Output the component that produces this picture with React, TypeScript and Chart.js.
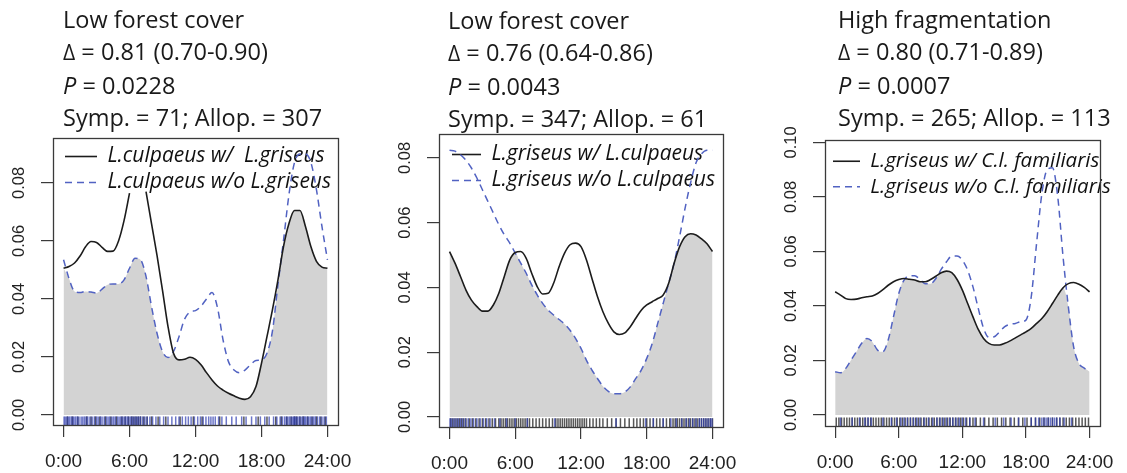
import React, { useEffect, useRef } from 'react';
import { Chart, registerables } from 'chart.js';

Chart.register(...registerables);

// ---------- data ----------
const HOURS = [0, 0.5, 1, 1.5, 2, 2.5, 3, 3.5, 4, 4.5, 5, 5.5, 6, 6.5, 7, 7.5, 8, 8.5, 9, 9.5, 10, 10.5, 11, 11.5, 12, 12.5, 13, 13.5, 14, 14.5, 15, 15.5, 16, 16.5, 17, 17.5, 18, 18.5, 19, 19.5, 20, 20.5, 21, 21.5, 22, 22.5, 23, 23.5, 24];
const X_TICKS = [0, 6, 12, 18, 24];
const X_LABELS = ['0:00', '6:00', '12:00', '18:00', '24:00'];
const Y_TICKS_1 = [0, 0.02, 0.04, 0.06, 0.08];
const Y_TICKS_2 = [0, 0.02, 0.04, 0.06, 0.08];
const Y_TICKS_3 = [0, 0.02, 0.04, 0.06, 0.08, 0.1];

const TITLES = ['Low forest cover', 'Low forest cover', 'High fragmentation'];
const DELTAS = ['0.81 (0.70-0.90)', '0.76 (0.64-0.86)', '0.80 (0.71-0.89)'];
const P_VALUES = ['0.0228', '0.0043', '0.0007'];
const SYMP = [71, 347, 265];
const ALLOP = [307, 61, 113];

const LEGEND_1 = ['L.culpaeus w/  L.griseus', 'L.culpaeus w/o L.griseus'];
const LEGEND_2 = ['L.griseus w/ L.culpaeus', 'L.griseus w/o L.culpaeus'];
const LEGEND_3 = ['L.griseus w/ C.l. familiaris', 'L.griseus w/o C.l. familiaris'];

// Panel 1: L. culpaeus with / without L. griseus (density)
const P1_WITH = [0.0506, 0.0512, 0.0524, 0.0548, 0.058, 0.0598, 0.0595, 0.0578, 0.0564, 0.0565, 0.060, 0.067, 0.0765, null, null, 0.077, 0.066, 0.055, 0.043, 0.0305, 0.0213, 0.019, 0.0192, 0.0199, 0.0192, 0.0173, 0.0146, 0.0121, 0.0100, 0.0086, 0.0075, 0.0066, 0.0058, 0.0054, 0.0063, 0.0098, 0.0178, 0.027, 0.0363, 0.0466, 0.058, 0.066, 0.0705, 0.0705, 0.065, 0.058, 0.053, 0.051, 0.0506];
const P1_WITHOUT = [0.0535, 0.047, 0.0426, 0.0422, 0.0426, 0.0424, 0.042, 0.0434, 0.0449, 0.0452, 0.0452, 0.0466, 0.0506, 0.054, 0.0535, 0.0478, 0.0374, 0.0282, 0.0219, 0.0198, 0.0219, 0.027, 0.033, 0.0355, 0.036, 0.0375, 0.040, 0.0422, 0.037, 0.026, 0.0184, 0.0155, 0.0146, 0.0155, 0.0173, 0.0188, 0.019, 0.0213, 0.029, 0.045, 0.060, 0.076, 0.087, 0.090, 0.090, 0.087, 0.0777, 0.065, 0.0535];

// Panel 2: L. griseus with / without L. culpaeus
const P2_WITH = [0.0511, 0.0475, 0.0434, 0.0392, 0.0361, 0.0341, 0.0327, 0.0327, 0.0346, 0.0382, 0.0434, 0.0485, 0.0508, 0.0511, 0.049, 0.0444, 0.0403, 0.038, 0.0382, 0.0413, 0.0464, 0.0506, 0.0532, 0.0537, 0.0526, 0.0485, 0.0428, 0.0372, 0.0325, 0.0289, 0.0263, 0.0255, 0.026, 0.0279, 0.0305, 0.033, 0.0346, 0.0356, 0.0366, 0.0377, 0.0413, 0.0475, 0.0526, 0.0557, 0.0566, 0.0562, 0.055, 0.0535, 0.0511];
const P2_WITHOUT = [0.0824, 0.0821, 0.081, 0.0793, 0.0769, 0.0738, 0.0702, 0.0666, 0.063, 0.0594, 0.0563, 0.0537, 0.0506, 0.0475, 0.0444, 0.0408, 0.0377, 0.0351, 0.033, 0.0315, 0.0301, 0.0287, 0.0268, 0.0243, 0.0212, 0.0175, 0.0145, 0.0119, 0.0095, 0.0079, 0.0072, 0.0072, 0.0077, 0.0093, 0.0119, 0.0145, 0.0181, 0.0227, 0.0289, 0.0351, 0.0413, 0.0475, 0.0557, 0.0645, 0.0723, 0.0785, 0.0813, 0.0824, 0.0824];

// Panel 3: L. griseus with / without C. l. familiaris
const P3_WITH = [0.0452, 0.044, 0.0427, 0.0424, 0.0425, 0.043, 0.0434, 0.0437, 0.0446, 0.046, 0.0476, 0.0489, 0.0497, 0.0501, 0.0498, 0.0495, 0.0489, 0.0489, 0.0497, 0.0509, 0.0522, 0.0528, 0.0522, 0.0497, 0.0458, 0.0409, 0.036, 0.0314, 0.0281, 0.0263, 0.0257, 0.0257, 0.0263, 0.0272, 0.0283, 0.0294, 0.0305, 0.0318, 0.0336, 0.0354, 0.0379, 0.0409, 0.044, 0.0467, 0.0482, 0.0486, 0.048, 0.0468, 0.0452];
const P3_WITHOUT = [0.0159, 0.0155, 0.0171, 0.0202, 0.0232, 0.0263, 0.0281, 0.0269, 0.0238, 0.0232, 0.0275, 0.036, 0.0446, 0.0495, 0.0511, 0.0511, 0.0498, 0.0482, 0.0482, 0.0501, 0.0534, 0.0562, 0.0583, 0.0583, 0.0568, 0.0531, 0.047, 0.0391, 0.0318, 0.0285, 0.0287, 0.0305, 0.0324, 0.0333, 0.0336, 0.0342, 0.0348, 0.0434, 0.0629, 0.0812, 0.090, 0.0907, 0.080, 0.058, 0.0397, 0.025, 0.0189, 0.0172, 0.0159];

// Rug: detection times (hours)
const P1_RUG_WITH = [0.35, 0.8, 1.3, 2.1, 2.5, 2.9, 3.3, 3.8, 4.3, 4.8, 5.3, 5.6, 5.9, 6.2, 6.4, 6.6, 6.8, 7.0, 7.3, 7.6, 8.0, 8.6, 9.3, 10.6, 11.8, 12.6, 14.2, 16.4, 17.7, 18.5, 19.3, 19.8, 20.3, 20.7, 21.0, 21.2, 21.5, 21.8, 22.2, 22.6, 23.0, 23.4, 23.8];
const P1_RUG_WITHOUT = [0.05, 0.15, 0.3, 0.42, 0.55, 0.7, 0.85, 0.95, 1.1, 1.25, 1.4, 1.6, 1.75, 1.9, 2.05, 2.2, 2.4, 2.6, 2.8, 3.0, 3.15, 3.35, 3.5, 3.7, 3.9, 4.05, 4.2, 4.4, 4.55, 4.7, 4.9, 5.05, 5.2, 5.35, 5.5, 5.65, 5.8, 5.95, 6.1, 6.25, 6.4, 6.55, 6.7, 6.85, 7.0, 7.2, 7.4, 7.6, 7.85, 8.1, 8.4, 8.75, 9.1, 9.5, 9.85, 10.2, 10.5, 10.8, 11.1, 11.35, 11.6, 11.9, 12.2, 12.45, 12.7, 12.95, 13.2, 13.4, 13.6, 13.8, 14.1, 14.4, 14.8, 15.3, 15.7, 16.2, 16.6, 17.1, 17.5, 17.9, 18.3, 18.7, 19.1, 19.4, 19.7, 19.9, 20.1, 20.25, 20.4, 20.55, 20.7, 20.85, 20.95, 21.05, 21.15, 21.3, 21.45, 21.6, 21.75, 21.9, 22.0, 22.15, 22.3, 22.45, 22.6, 22.75, 22.9, 23.1, 23.3, 23.5, 23.7, 23.9];
const P2_RUG_WITH = [0.1, 0.3, 0.5, 0.7, 0.9, 1.1, 1.3, 1.5, 1.8, 2.1, 2.4, 2.7, 3.0, 3.3, 3.6, 3.9, 4.2, 4.5, 4.7, 4.9, 5.1, 5.3, 5.5, 5.7, 5.9, 6.1, 6.3, 6.5, 6.7, 6.9, 7.1, 7.3, 7.6, 7.9, 8.2, 8.5, 8.8, 9.1, 9.4, 9.7, 9.9, 10.1, 10.3, 10.5, 10.7, 10.9, 11.1, 11.3, 11.5, 11.7, 11.9, 12.1, 12.3, 12.5, 12.8, 13.1, 13.4, 13.7, 14.0, 14.4, 14.8, 15.2, 15.6, 16.0, 16.4, 16.8, 17.1, 17.4, 17.7, 18.0, 18.3, 18.6, 18.9, 19.2, 19.5, 19.8, 20.1, 20.4, 20.6, 20.8, 21.0, 21.2, 21.4, 21.6, 21.8, 22.0, 22.2, 22.4, 22.6, 22.8, 23.0, 23.2, 23.4, 23.6, 23.8, 24.0];
const P2_RUG_WITHOUT = [0.05, 0.2, 0.4, 0.6, 0.8, 1.0, 1.2, 1.45, 1.7, 1.95, 2.2, 2.5, 2.8, 3.1, 3.4, 3.7, 4.1, 4.6, 5.2, 6.0, 7.1, 9.6, 15.2, 17.9, 18.6, 19.5, 20.2, 20.7, 21.2, 21.6, 21.9, 22.2, 22.5, 22.8, 23.0, 23.2, 23.4, 23.6, 23.8, 23.95];
const P3_RUG_WITH = [0.1, 0.35, 0.6, 0.85, 1.1, 1.35, 1.6, 1.85, 2.1, 2.35, 2.6, 2.85, 3.1, 3.35, 3.6, 3.85, 4.1, 4.35, 4.6, 4.85, 5.1, 5.35, 5.6, 5.85, 6.1, 6.35, 6.6, 6.85, 7.1, 7.35, 7.6, 7.85, 8.1, 8.35, 8.6, 8.85, 9.1, 9.35, 9.6, 9.85, 10.1, 10.35, 10.6, 10.85, 11.1, 11.35, 11.6, 11.85, 12.1, 12.4, 12.7, 13.0, 13.3, 13.7, 14.1, 14.5, 14.9, 15.3, 15.7, 16.1, 16.5, 16.9, 17.3, 17.7, 18.1, 18.5, 18.9, 19.3, 19.7, 20.1, 20.5, 20.9, 21.2, 21.5, 21.8, 22.1, 22.4, 22.7, 23.0, 23.3, 23.6, 23.9];
const P3_RUG_WITHOUT = [0.5, 1.6, 2.3, 2.8, 3.1, 3.4, 4.5, 5.3, 5.8, 6.2, 6.5, 6.8, 7.1, 7.4, 7.7, 8.0, 8.4, 8.8, 9.2, 9.6, 9.9, 10.2, 10.5, 10.8, 11.1, 11.4, 11.7, 12.0, 12.3, 12.7, 13.2, 14.0, 15.1, 15.9, 16.6, 17.3, 17.9, 18.5, 18.9, 19.2, 19.5, 19.7, 19.9, 20.1, 20.3, 20.5, 20.7, 20.9, 21.2, 21.6, 22.3];

// ---------- layout / style ----------
const H = 473;
const BLACK = '#1c1c1c';
const BLUE = '#5162c2';
const GREY = '#d3d3d3';
const AXIS = '#3a3a3a';
const RUG_BLACK = 'rgba(15,15,15,0.7)';
const RUG_BLUE = 'rgba(45,60,175,0.7)';
const LEGEND_PAD = 5;

const PANELS = [
  { left: 0, width: 380, box: { left: 53, right: 338, top: 138, bottom: 425 }, yMin: -0.00345, yMax: 0.0955, yTicks: Y_TICKS_1,
    withVals: P1_WITH, withoutVals: P1_WITHOUT, rugWith: P1_RUG_WITH, rugWithout: P1_RUG_WITHOUT, legend: LEGEND_1,
    legendFont: 21, legendBox: 32, legendDx: 7, legendDy: 3, titleLeft: 63, titleTop: 3, idx: 0 },
  { left: 380, width: 380, box: { left: 59, right: 343, top: 134, bottom: 427 }, yMin: -0.00309, yMax: 0.0874, yTicks: Y_TICKS_2,
    withVals: P2_WITH, withoutVals: P2_WITHOUT, rugWith: P2_RUG_WITH, rugWithout: P2_RUG_WITHOUT, legend: LEGEND_2,
    legendFont: 21, legendBox: 29, legendDx: 8, legendDy: 5, titleLeft: 68, titleTop: 4, idx: 1 },
  { left: 760, width: 367, box: { left: 65, right: 349, top: 140, bottom: 426 }, yMin: -0.00404, yMax: 0.1009, yTicks: Y_TICKS_3,
    withVals: P3_WITH, withoutVals: P3_WITHOUT, rugWith: P3_RUG_WITH, rugWithout: P3_RUG_WITHOUT, legend: LEGEND_3,
    legendFont: 20.5, legendBox: 27, legendDx: 3, legendDy: 6, titleLeft: 78, titleTop: 3, idx: 2 },
];

const boxPlugin = {
  id: 'plotBox',
  afterDatasetsDraw(chart: any) {
    const { ctx, chartArea: a } = chart;
    ctx.save();
    ctx.strokeStyle = AXIS;
    ctx.lineWidth = 1.3;
    ctx.strokeRect(Math.round(a.left) + 0.5, Math.round(a.top) + 0.5, Math.round(a.right - a.left), Math.round(a.bottom - a.top));
    ctx.restore();
  },
};

function makeLegendMover(dx: number, dy: number) {
  return {
    id: 'legendMover',
    afterLayout(chart: any) {
      const lg = chart.legend;
      if (!lg) return;
      const a = chart.chartArea;
      const h = lg.height;
      lg.left = a.left + dx;
      lg.width = chart.width - lg.left;
      lg.right = chart.width;
      lg.top = a.top + dy;
      lg.bottom = lg.top + h;
    },
  };
}

function Panel({ cfg }: { cfg: any }) {
  const ref = useRef<HTMLCanvasElement>(null);
  useEffect(() => {
    const canvas = ref.current as HTMLCanvasElement;
    const box = cfg.box;
    const rugY = cfg.yMin + 0.015 * (cfg.yMax - cfg.yMin);
    const rugR = 0.015 * (box.bottom - box.top);
    const toXY = (vals: (number | null)[]) => HOURS.map((h, i) => ({ x: h, y: vals[i] }));
    const overlap = cfg.withVals.map((v: number | null, i: number) => {
      const w = cfg.withoutVals[i];
      return v == null ? w : Math.min(v, w);
    });
    const axisFont = { family: '"Liberation Sans", Arial, sans-serif' };
    const chart = new Chart(canvas, {
      type: 'line',
      data: {
        datasets: [
          { label: cfg.legend[0], data: toXY(cfg.withVals), borderColor: BLACK, borderWidth: 1.6, pointRadius: 0, fill: false,
            cubicInterpolationMode: 'monotone', spanGaps: false, order: 0 },
          { label: cfg.legend[1], data: toXY(cfg.withoutVals), borderColor: BLUE, borderWidth: 1.5, borderDash: [7, 5], pointRadius: 0,
            fill: false, cubicInterpolationMode: 'monotone', order: 1 },
          { label: 'overlap', data: toXY(overlap), borderWidth: 0, borderColor: 'rgba(0,0,0,0)', backgroundColor: GREY, fill: 'origin',
            pointRadius: 0, cubicInterpolationMode: 'monotone', order: 5 },
          { type: 'scatter', label: 'rug with', data: cfg.rugWith.map((t: number) => ({ x: t, y: rugY })), showLine: false,
            pointStyle: 'line', pointRotation: 90, pointRadius: rugR, pointHoverRadius: rugR, pointBorderWidth: 1.5,
            pointBorderColor: RUG_BLACK, borderColor: RUG_BLACK, order: 3 },
          { type: 'scatter', label: 'rug without', data: cfg.rugWithout.map((t: number) => ({ x: t, y: rugY })), showLine: false,
            pointStyle: 'line', pointRotation: 90, pointRadius: rugR, pointHoverRadius: rugR, pointBorderWidth: 1.5,
            pointBorderColor: RUG_BLUE, borderColor: RUG_BLUE, order: 2 },
        ],
      } as any,
      options: {
        responsive: false,
        animation: false,
        devicePixelRatio: 1,
        events: [],
        layout: { padding: { top: box.top, right: cfg.width - box.right, left: 0, bottom: 0 } },
        plugins: {
          tooltip: { enabled: false },
          title: { display: false },
          legend: {
            position: 'chartArea',
            align: 'start',
            labels: {
              usePointStyle: true,
              pointStyleWidth: cfg.legendBox,
              boxWidth: cfg.legendBox,
              boxHeight: 10,
              padding: LEGEND_PAD,
              color: '#111',
              font: { family: '"Open Sans", sans-serif', size: cfg.legendFont, style: 'italic' },
              generateLabels: () => [
                { text: cfg.legend[0], fillStyle: 'rgba(0,0,0,0)', strokeStyle: BLACK, lineWidth: 1.6, lineDash: [], pointStyle: 'line', hidden: false, datasetIndex: 0, fontColor: '#111' },
                { text: cfg.legend[1], fillStyle: 'rgba(0,0,0,0)', strokeStyle: BLUE, lineWidth: 1.5, lineDash: [7, 5], pointStyle: 'line', hidden: false, datasetIndex: 1, fontColor: '#111' },
              ],
            },
          },
        },
        scales: {
          x: {
            type: 'linear', min: -0.96, max: 24.96,
            afterBuildTicks: (s: any) => { s.ticks = X_TICKS.map((v) => ({ value: v })); },
            afterFit: (s: any) => { s.height = H - box.bottom; },
            ticks: { callback: (_v: any, i: number) => X_LABELS[i], autoSkip: false, maxRotation: 0, minRotation: 0, padding: 13,
              color: '#222', font: { ...axisFont, size: 19 } },
            grid: { display: true, drawOnChartArea: false, drawTicks: true, tickLength: 12, color: AXIS, lineWidth: 1.2 },
            border: { display: false },
          },
          y: {
            type: 'linear', min: cfg.yMin, max: cfg.yMax,
            afterBuildTicks: (s: any) => { s.ticks = cfg.yTicks.map((v: number) => ({ value: v })); },
            afterFit: (s: any) => { s.width = box.left; },
            ticks: { callback: (v: any) => Number(v).toFixed(2), minRotation: 90, maxRotation: 90, crossAlign: 'center', padding: 5,
              color: '#222', font: { ...axisFont, size: 16.5 } },
            grid: { display: true, drawOnChartArea: false, drawTicks: true, tickLength: 12, color: AXIS, lineWidth: 1.2 },
            border: { display: false },
          },
        },
      } as any,
      plugins: [boxPlugin, makeLegendMover(cfg.legendDx, cfg.legendDy)],
    });
    return () => chart.destroy();
  }, []);

  const i = cfg.idx;
  return (
    <div style={{ position: 'absolute', left: cfg.left, top: 0, width: cfg.width, height: H }}>
      <canvas ref={ref} width={cfg.width} height={H} style={{ position: 'absolute', left: 0, top: 0, width: cfg.width, height: H }} />
      <div style={{ position: 'absolute', left: cfg.titleLeft, top: cfg.titleTop, fontFamily: '"Open Sans", sans-serif', fontSize: 23.5,
        lineHeight: '32.3px', color: '#1a1a1a', whiteSpace: 'nowrap' }}>
        <div>{TITLES[i]}</div>
        <div><span style={{ fontSize: '0.9em' }}>Δ</span> = {DELTAS[i]}</div>
        <div><i>P</i> = {P_VALUES[i]}</div>
        <div>Symp. = {SYMP[i]}; Allop. = {ALLOP[i]}</div>
      </div>
    </div>
  );
}

export default function App() {
  return (
    <div style={{ position: 'absolute', left: 0, top: 0, width: 1127, height: H, background: '#fff', overflow: 'hidden' }}>
      {PANELS.map((p) => <Panel key={p.idx} cfg={p} />)}
    </div>
  );
}
